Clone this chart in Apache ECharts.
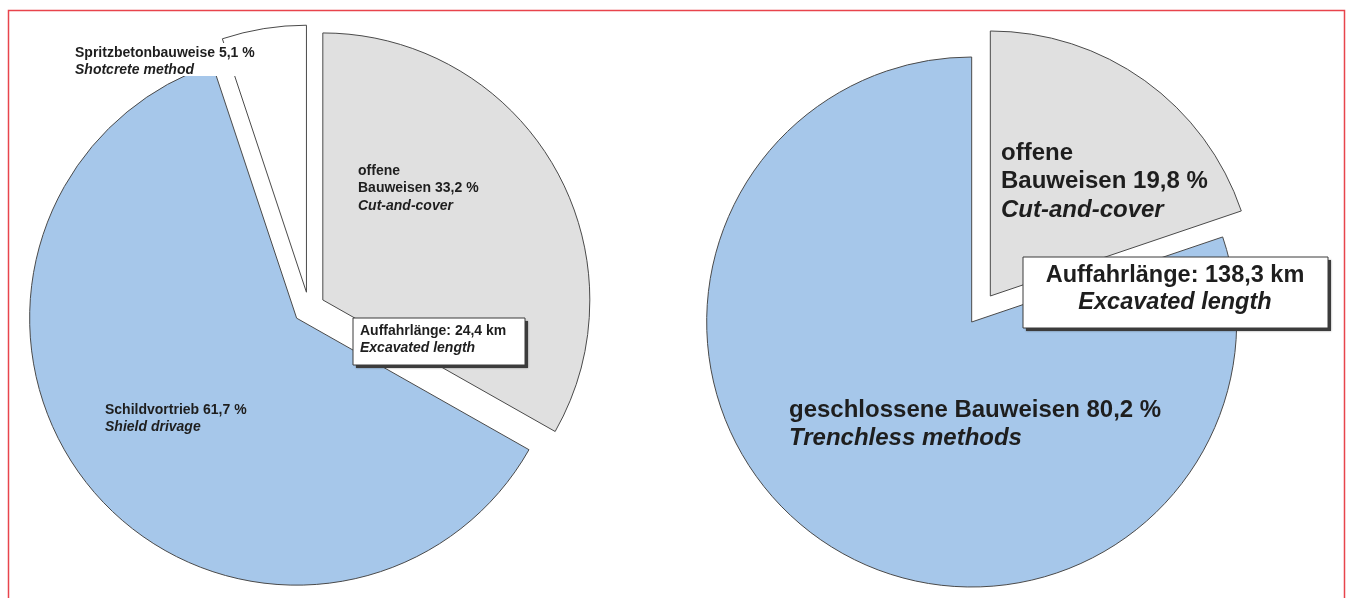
<!DOCTYPE html>
<html>
<head>
<meta charset="utf-8">
<title>Auffahrlänge nach Bauweise</title>
<script src="https://cdn.jsdelivr.net/npm/echarts@6/dist/echarts.min.js"></script>
<style>
  html, body { margin: 0; padding: 0; background: #fff; }
  #chart { width: 1347px; height: 598px; }
</style>
</head>
<body>
<div id="chart"></div>
<script>
// Left pie: excavated length 24,4 km
const leftNames = ['offene\nBauweisen', 'Schildvortrieb', 'Spritzbetonbauweise'];
const leftEnglish = ['Cut-and-cover', 'Shield drivage', 'Shotcrete method'];
const leftValues = [33.2, 61.7, 5.1];
const leftLengthKm = 24.4;

// Right pie: excavated length 138,3 km
const rightNames = ['offene\nBauweisen', 'geschlossene Bauweisen'];
const rightEnglish = ['Cut-and-cover', 'Trenchless methods'];
const rightValues = [19.8, 80.2];
const rightLengthKm = 138.3;

const BLUE = '#a6c7ea';
const GREY = '#e0e0e0';
const WHITE = '#ffffff';
const leftColors = [GREY, BLUE, WHITE];
const rightColors = [GREY, BLUE];

const FONT = '"Liberation Sans", Arial, Helvetica, sans-serif';
const INK = '#1e1e1e';

function de(v) { return v.toFixed(1).replace('.', ','); }

// "name value %" on the last German line, English term in italics below
function labelText(names, english, values, i) {
  const lines = names[i].split('\n');
  lines[lines.length - 1] += ' ' + de(values[i]) + ' %';
  return lines.map(l => '{b|' + l + '}').join('\n') + '\n{i|' + english[i] + '}';
}

function pieData(names, values, colors) {
  return values.map((v, i) => ({
    name: names[i].replace('\n', ' '),
    value: v,
    selected: true,
    itemStyle: { color: colors[i] },
    select: { itemStyle: { color: colors[i] } }
  }));
}

function richStyles(size, lh) {
  return {
    b: { fontFamily: FONT, fontWeight: 'bold', fontSize: size, lineHeight: lh, fill: INK },
    i: { fontFamily: FONT, fontWeight: 'bold', fontStyle: 'italic', fontSize: size, lineHeight: lh, fill: INK }
  };
}

// slice captions: [left, top] of each text block
const leftLabelPos = [[358, 162], [105, 401], [75, 44]];
const rightLabelPos = [[1001, 139], [789, 396]];

function captions(names, english, values, pos, size, lh) {
  return values.map((v, i) => ({
    type: 'text',
    style: {
      text: labelText(names, english, values, i),
      x: pos[i][0], y: pos[i][1],
      align: 'left', verticalAlign: 'top',
      rich: richStyles(size, lh)
    },
    z: 6, silent: true
  }));
}

function boxGraphic(x, y, w, h, line1, line2, size, lines, align, tx) {
  return [
    {
      type: 'rect',
      shape: { x: x + 3, y: y + 3, width: w, height: h },
      style: { fill: '#3c3c3c', shadowColor: 'rgba(0,0,0,0.4)', shadowBlur: 2 },
      z: 9, silent: true
    },
    {
      type: 'rect',
      shape: { x: x, y: y, width: w, height: h },
      style: { fill: '#ffffff', stroke: '#3a3a3a', lineWidth: 1 },
      z: 10, silent: true
    },
    {
      type: 'text',
      style: {
        text: line1, x: tx, y: lines[0], align: align, verticalAlign: 'middle',
        font: 'bold ' + size + 'px ' + FONT, fill: INK
      },
      z: 11, silent: true
    },
    {
      type: 'text',
      style: {
        text: line2, x: tx, y: lines[1], align: align, verticalAlign: 'middle',
        font: 'italic bold ' + size + 'px ' + FONT, fill: INK
      },
      z: 11, silent: true
    }
  ];
}

function pieSeries(center, radius, data) {
  return {
    type: 'pie',
    center: center,
    radius: radius,
    startAngle: 90,
    clockwise: true,
    selectedMode: 'multiple',
    selectedOffset: 16,
    itemStyle: { borderColor: '#4a4a4a', borderWidth: 1 },
    emphasis: { disabled: true },
    label: { show: false },
    labelLine: { show: false },
    data: data
  };
}

const chart = echarts.init(document.getElementById('chart'), null, { renderer: 'canvas' });

chart.setOption({
  animation: false,
  backgroundColor: '#ffffff',
  series: [
    pieSeries([309, 308], 267, pieData(leftNames, leftValues, leftColors)),
    pieSeries([981, 309], 265, pieData(rightNames, rightValues, rightColors))
  ],
  graphic: [
    {
      type: 'rect',
      shape: { x: 8.5, y: 10.5, width: 1336, height: 700 },
      style: { fill: 'none', stroke: '#e8444c', lineWidth: 1.5 },
      z: 20,
      silent: true
    },
    // white patch behind the small shotcrete caption
    {
      type: 'rect',
      shape: { x: 73, y: 43, width: 188, height: 33 },
      style: { fill: '#ffffff' },
      z: 5,
      silent: true
    }
  ]
    .concat(captions(leftNames, leftEnglish, leftValues, leftLabelPos, 14, 17.5))
    .concat(captions(rightNames, rightEnglish, rightValues, rightLabelPos, 24, 28.5))
    .concat(boxGraphic(353, 318, 172, 47,
      'Auffahrlänge: ' + de(leftLengthKm) + ' km', 'Excavated length',
      14, [331, 348], 'left', 360))
    .concat(boxGraphic(1023, 257, 305, 71,
      'Auffahrlänge: ' + de(rightLengthKm) + ' km', 'Excavated length',
      23.5, [276, 303], 'center', 1175))
});
</script>
</body>
</html>
